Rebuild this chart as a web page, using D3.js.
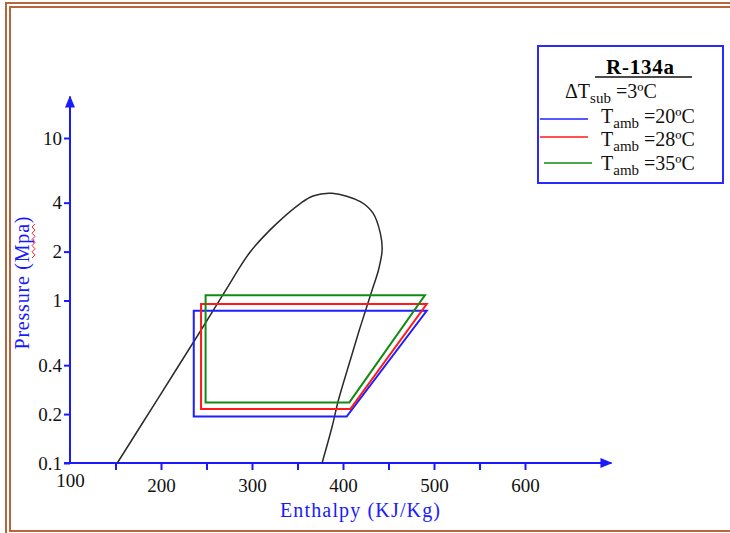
<!DOCTYPE html>
<html>
<head>
<meta charset="utf-8">
<script src="https://cdn.jsdelivr.net/npm/d3@7"></script>
<style>
body { margin: 0; background: #fff; }
svg { display: block; }
text { font-family: "Liberation Serif", "Times New Roman", serif; }
</style>
</head>
<body>
<div id="chart"></div>
<script>
// saturation dome of R-134a (enthalpy kJ/kg, pressure MPa)
var domeEnthalpy = [152, 197, 242, 270, 298, 325, 353, 367, 388, 419, 433, 441, 443, 439, 432, 424, 418, 408, 395, 388, 377];
var domePressure = [0.1, 0.251, 0.631, 1.13, 1.99, 2.9, 3.95, 4.4, 4.57, 4.06, 3.45, 2.6, 2.05, 1.54, 1.16, 0.84, 0.66, 0.43, 0.244, 0.167, 0.1];

// one cycle per ambient temperature
var tAmb = [20, 28, 35];
var hCondOut = [236, 244, 249];
var hEvapOut = [404, 408, 407];
var hCompOut = [492, 492, 490];
var pLow = [0.193, 0.215, 0.236];
var pHigh = [0.865, 0.952, 1.076];
var cycleColors = ['#1f1fff', '#ff1a1a', '#138a13'];

var enthalpyTicks = [100, 150, 200, 250, 300, 350, 400, 450, 500, 550, 600];
var enthalpyLabels = [100, 200, 300, 400, 500, 600];
var pressureTicks = [0.1, 0.2, 0.4, 1, 2, 4, 10];

var width = 730, height = 533;
var axisBlue = '#1a1aff';

var svg = d3.select('#chart').append('svg')
    .attr('width', width)
    .attr('height', height);

// brown double frame
svg.append('rect').attr('x', 6).attr('y', 3).attr('width', 740).attr('height', 534)
    .attr('fill', 'none').attr('stroke', '#b8653c').attr('stroke-width', 2);
svg.append('rect').attr('x', 10).attr('y', 7).attr('width', 730).attr('height', 524)
    .attr('fill', 'none').attr('stroke', '#b8653c').attr('stroke-width', 2);

var x = d3.scaleLinear().domain([100, 600]).range([70, 525]);
var y = d3.scaleLog().domain([0.1, 10]).range([463, 138]);

// arrow head
svg.append('defs').append('marker')
    .attr('id', 'arrow')
    .attr('markerUnits', 'userSpaceOnUse')
    .attr('markerWidth', 12).attr('markerHeight', 10)
    .attr('refX', 11).attr('refY', 5)
    .attr('orient', 'auto')
    .append('path')
    .attr('d', 'M0,0 L12,5 L0,10 Z')
    .attr('fill', axisBlue);

// x axis
var gx = svg.append('g').attr('transform', 'translate(0,' + y(0.1) + ')')
    .call(d3.axisBottom(x).tickValues(enthalpyTicks).tickSize(7).tickSizeOuter(0)
        .tickFormat(function(d) { return enthalpyLabels.indexOf(d) >= 0 ? d : ''; }));
gx.select('.domain').remove();
gx.selectAll('.tick line').attr('stroke', axisBlue).attr('stroke-width', 2)
    .filter(function(d) { return d === 100; }).attr('y2', 0);
gx.selectAll('.tick text')
    .attr('font-size', 19).attr('fill', '#111')
    .attr('y', function(d) { return d === 100 ? 11 : 16; });

svg.append('line')
    .attr('x1', x(100) - 6).attr('y1', y(0.1))
    .attr('x2', x(695)).attr('y2', y(0.1))
    .attr('stroke', axisBlue).attr('stroke-width', 2)
    .attr('marker-end', 'url(#arrow)');

// y axis
var gy = svg.append('g').attr('transform', 'translate(' + x(100) + ',0)')
    .call(d3.axisLeft(y).tickValues(pressureTicks).tickSize(6).tickSizeOuter(0)
        .tickFormat(d3.format('~g')));
gy.select('.domain').remove();
gy.selectAll('.tick line').attr('stroke', axisBlue).attr('stroke-width', 2);
gy.selectAll('.tick text').attr('font-size', 19).attr('fill', '#111').attr('x', -8);

svg.append('line')
    .attr('x1', x(100)).attr('y1', y(0.1))
    .attr('x2', x(100)).attr('y2', y(18))
    .attr('stroke', axisBlue).attr('stroke-width', 2)
    .attr('marker-end', 'url(#arrow)');

// axis titles
svg.append('text')
    .attr('x', 360).attr('y', 517)
    .attr('text-anchor', 'middle')
    .attr('font-size', 20)
    .attr('textLength', 160).attr('lengthAdjust', 'spacing')
    .attr('fill', axisBlue)
    .text('Enthalpy (KJ/Kg)');

var ylab = svg.append('g').attr('transform', 'translate(29,283) rotate(-90)');
ylab.append('text')
    .attr('text-anchor', 'middle')
    .attr('font-size', 20)
    .attr('textLength', 133).attr('lengthAdjust', 'spacing')
    .attr('fill', axisBlue)
    .text('Pressure (Mpa)');
// spell-check squiggle under "Mpa"
var squiggle = '';
for (var i = 0; i <= 11; i++) {
    squiggle += (i === 0 ? 'M' : 'L') + (25 + i * 3.1) + ',' + (i % 2 ? 6 : 3);
}
ylab.append('path').attr('d', squiggle).attr('fill', 'none')
    .attr('stroke', '#ff2020').attr('stroke-width', 1);

// saturation dome
var line = d3.line()
    .x(function(d) { return x(d[0]); })
    .y(function(d) { return y(d[1]); })
    .curve(d3.curveCatmullRom);

svg.append('path')
    .datum(d3.zip(domeEnthalpy, domePressure))
    .attr('d', line)
    .attr('fill', 'none')
    .attr('stroke', '#2a2a2a')
    .attr('stroke-width', 1.5);

// cycles
tAmb.forEach(function(t, i) {
    var pts = [
        [hCondOut[i], pHigh[i]],
        [hCondOut[i], pLow[i]],
        [hEvapOut[i], pLow[i]],
        [hCompOut[i], pHigh[i]]
    ];
    svg.append('path')
        .attr('d', d3.line().x(function(d) { return x(d[0]); }).y(function(d) { return y(d[1]); })(pts) + 'Z')
        .attr('fill', 'none')
        .attr('stroke', cycleColors[i])
        .attr('stroke-width', 2);
});

// legend
var lg = svg.append('g');
lg.append('rect').attr('x', 538).attr('y', 46).attr('width', 185).attr('height', 137)
    .attr('fill', '#fff').attr('stroke', '#2a2aff').attr('stroke-width', 2);
lg.append('text').attr('x', 640).attr('y', 74).attr('text-anchor', 'middle')
    .attr('font-size', 21).attr('font-weight', 'bold')
    .attr('textLength', 68).attr('lengthAdjust', 'spacing')
    .text('R-134a');
lg.append('line').attr('x1', 595).attr('x2', 692).attr('y1', 77).attr('y2', 77)
    .attr('stroke', '#111').attr('stroke-width', 1.5);

var sub = lg.append('text').attr('x', 565).attr('y', 98).attr('font-size', 20).attr('fill', '#111');
sub.append('tspan').text('\u0394T');
sub.append('tspan').attr('font-size', 15).attr('dy', 5).text('sub');
sub.append('tspan').attr('dy', -5).text(' =3\u00baC');

var rowLine = [119, 137, 163];
var rowText = [123, 146, 170];
tAmb.forEach(function(t, i) {
    lg.append('line')
        .attr('x1', i === 2 ? 544 : 540).attr('x2', i === 2 ? 592 : 588)
        .attr('y1', rowLine[i]).attr('y2', rowLine[i])
        .attr('stroke', cycleColors[i]).attr('stroke-width', 1.5);
    var tx = lg.append('text').attr('x', 601).attr('y', rowText[i]).attr('font-size', 20).attr('fill', '#111');
    tx.append('tspan').text('T');
    tx.append('tspan').attr('font-size', 15).attr('dy', 5).text('amb');
    tx.append('tspan').attr('dy', -5).text(' =' + t + '\u00baC');
});
</script>
</body>
</html>
